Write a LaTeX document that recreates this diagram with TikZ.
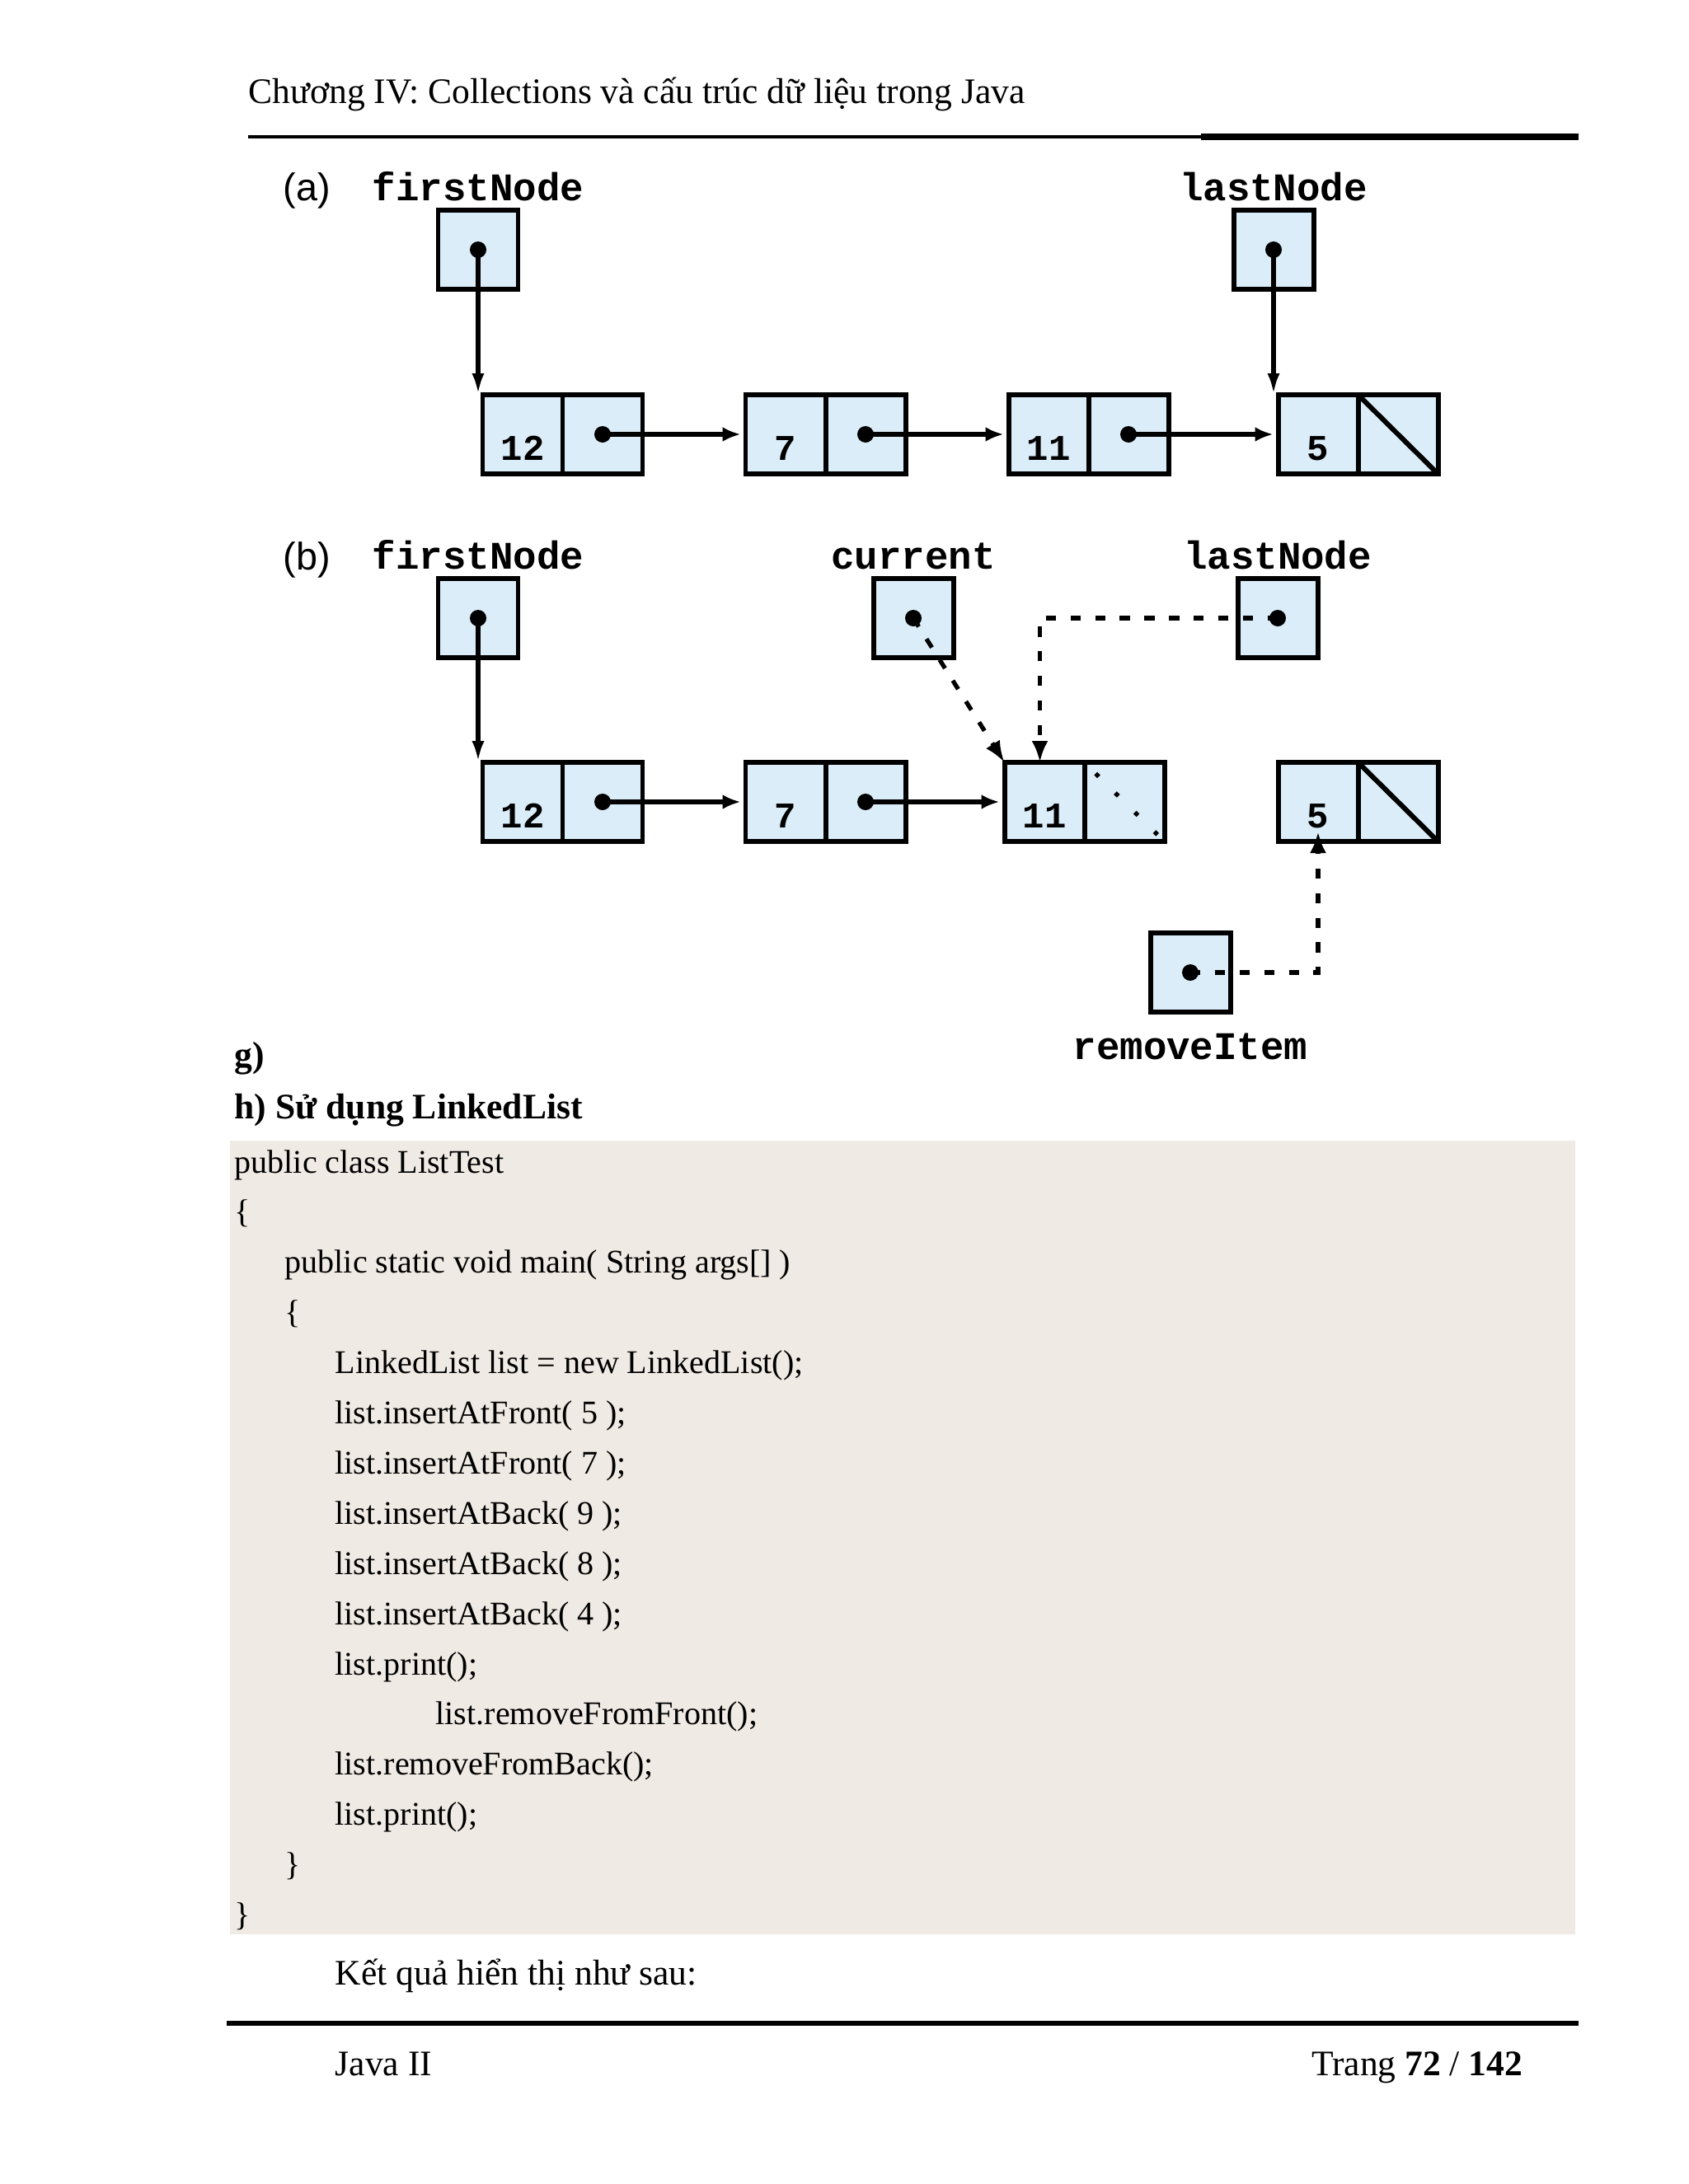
\documentclass[tikz,border=0pt]{standalone}
\usepackage{fontspec}
\setmainfont{Liberation Serif}
\newfontfamily\diagmono{Liberation Mono}
\newfontfamily\diagsans{Liberation Sans}
\usepackage{tikz}
\usetikzlibrary{positioning,arrows.meta,calc}
\usepackage{xcolor}
\definecolor{cellblue}{RGB}{219,237,249}
\definecolor{codebg}{RGB}{239,234,227}

\begin{document}
\begin{tikzpicture}[>={Latex[length=2.2mm,width=1.8mm]},
  cell/.style={draw,line width=1.7pt,fill=cellblue,minimum width=0.97cm,minimum height=0.96cm,inner sep=0pt,outer sep=0pt,text height=0.62cm,text depth=0pt,font=\diagmono\bfseries\fontsize{12.5pt}{14pt}\selectfont},
  lbl/.style={inner sep=1pt,font=\diagmono\bfseries\fontsize{13.5pt}{16pt}\selectfont},
  tag/.style={inner sep=0pt,font=\diagsans\fontsize{13.3pt}{16pt}\selectfont},
  pagetxt/.style={inner sep=0pt,anchor=base west,font=\fontsize{12.4pt}{14pt}\selectfont},
  codetxt/.style={inner sep=0pt,anchor=base west,font=\fontsize{11.4pt}{14pt}\selectfont},
  ptr/.style={line width=1.5pt,->,shorten >=0.06cm},
  vptr/.style={line width=1.5pt,-{Latex[length=2.6mm,width=1.5mm]}},
  dptr/.style={line width=1.5pt,dash pattern=on 3.5pt off 5pt,-{Latex[length=2.6mm,width=2mm]}}]
\useasboundingbox (0,0) rectangle (20.48,-26.50);
\fill[codebg] (2.79,-13.84) rectangle (19.11,-23.47);

\node[pagetxt] (head) at (3.01,-1.26) {Chương IV: Collections và cấu trúc dữ liệu trong Java};
\draw[line width=1.1pt] (3.01,-1.66) -- (14.57,-1.66);
\draw[line width=2pt] (14.57,-1.66) -- (19.15,-1.66);

\node[tag,anchor=base west] (ta) at (3.43,-2.44) {(a)};
\node[cell] (fa) at (5.80,-3.03) {};
\node[lbl,above=2pt of fa] (tfa) {firstNode};
\node[cell] (la) at (15.45,-3.03) {};
\node[lbl,above=2pt of la] (tla) {lastNode};
\foreach \v/\x in {12/6.34,7/9.53,11/12.72,5/15.99}{
  \node[cell] (av\v) at (\x,-5.27) {\v};
  \node[cell,right=0pt of av\v] (ap\v) {};
}
\draw[line width=1.7pt] (ap5.north west) -- (ap5.south east);
\draw[vptr] (fa.center) -- (fa.center |- av12.north);
\draw[vptr] (la.center) -- (la.center |- av5.north);
\draw[ptr] (ap12.center) -- (av7.west);
\draw[ptr] (ap7.center) -- (av11.west);
\draw[ptr] (ap11.center) -- (av5.west);

\node[tag,anchor=base west] (tb) at (3.43,-6.91) {(b)};
\node[cell] (fb) at (5.80,-7.50) {};
\node[lbl,above=2pt of fb] (tfb) {firstNode};
\node[cell] (cb) at (11.08,-7.50) {};
\node[lbl,above=2pt of cb] (tcb) {current};
\node[cell] (lb) at (15.50,-7.50) {};
\node[lbl,above=2pt of lb] (tlb) {lastNode};
\foreach \v/\x in {12/6.34,7/9.53,11/12.67,5/15.99}{
  \node[cell] (bv\v) at (\x,-9.73) {\v};
  \node[cell,right=0pt of bv\v] (bp\v) {};
}
\draw[line width=1.7pt] (bp5.north west) -- (bp5.south east);
\draw[line width=1.5pt,dash pattern=on 1.5pt off 8pt,dash phase=4pt] (bp11.north west) -- (bp11.south east);
\node[cell] (ri) at (14.44,-11.80) {};
\node[lbl,below=0.22cm of ri] (tri) {removeItem};
\draw[vptr] (fb.center) -- (fb.center |- bv12.north);
\draw[ptr] (bp12.center) -- (bv7.west);
\draw[ptr] (bp7.center) -- (bv11.west);
\draw[dptr] (cb.center) -- (bv11.north west);
\draw[dptr] (lb.center) -| ($(bv11.north west)+(0.43,0)$);
\draw[dptr] (ri.center) -| ($(bv5.south)+(0,0.12)$);

\foreach \n in {fa,la,ap12,ap7,ap11,fb,cb,lb,bp12,bp7,ri}
  \fill (\n.center) circle (0.1);

\node[pagetxt,font=\fontsize{12.4pt}{14pt}\selectfont\bfseries] (gsec) at (2.84,-12.94) {g)};
\node[pagetxt,font=\fontsize{12.4pt}{14pt}\selectfont\bfseries] (hsec) at (2.84,-13.57) {h) Sử dụng LinkedList};
\foreach \ind/\txt [count=\k] in {
  0/{public class ListTest},
  0/{\{},
  1/{public static void main( String args[] )},
  1/{\{},
  2/{LinkedList list = new LinkedList();},
  2/{list.insertAtFront( 5 );},
  2/{list.insertAtFront( 7 );},
  2/{list.insertAtBack( 9 );},
  2/{list.insertAtBack( 8 );},
  2/{list.insertAtBack( 4 );},
  2/{list.print();},
  4/{list.removeFromFront();},
  2/{list.removeFromBack();},
  2/{list.print();},
  1/{\}},
  0/{\}}}
  \node[codetxt] (code\k) at ({2.84+0.61*\ind},{-14.23-0.609*(\k-1)}) {\txt};
\node[pagetxt] (result) at (4.06,-24.08) {Kết quả hiển thị như sau:};

\draw[line width=1.5pt] (2.75,-24.55) -- (19.15,-24.55);
\node[pagetxt] (foot) at (4.06,-25.18) {Java II};
\node[pagetxt,anchor=base east] (page) at (18.48,-25.18) {Trang \textbf{72} / \textbf{142}};
\end{tikzpicture}
\end{document}
